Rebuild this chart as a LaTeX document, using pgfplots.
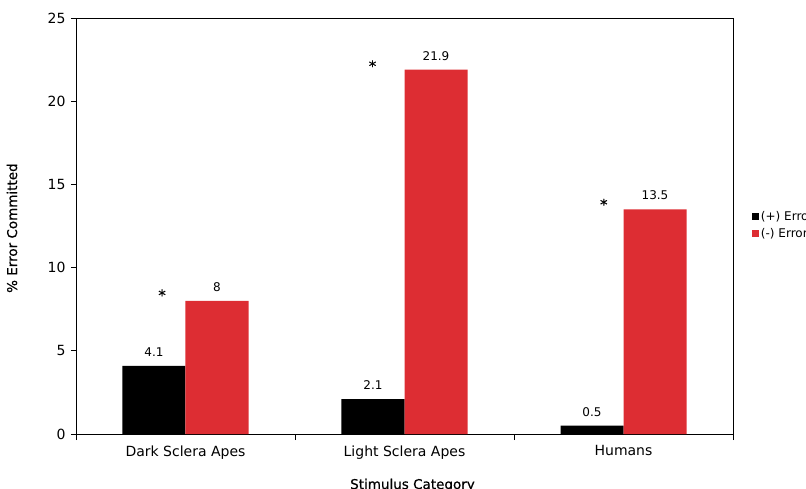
\documentclass[border=0pt]{standalone}
\usepackage{pgfplots}
\pgfplotsset{compat=1.18}
\usepackage{fontspec}
\setmainfont{DejaVu Sans}
\newfontfamily\labelfont[FakeBold=0.6]{DejaVu Sans}
\definecolor{errred}{RGB}{221,45,51}

\begin{document}
\begin{tikzpicture}[x=1pt,y=1pt]
\begin{axis}[
  at={(0,0)}, anchor=south west,
  scale only axis,
  width=657pt, height=416pt,
  ymin=0, ymax=25,
  ytick={0,5,...,25},
  xmin=-0.5, xmax=2.5,
  xtick={0,1,2},
  xticklabels={Dark Sclera Apes, Light Sclera Apes, Humans},
  minor xtick={-0.5,0.5,1.5,2.5},
  major x tick style={draw=none},
  minor tick length=6pt,
  major tick length=5pt,
  tick align=outside,
  xtick pos=bottom, ytick pos=left,
  axis line style={line width=0.9pt},
  every tick/.style={black, line width=0.9pt},
  /pgf/number format/assume math mode=true,
  tick label style={font=\fontsize{14}{16}\selectfont},
  xticklabel style={yshift=-3pt},
  yticklabel style={xshift=-2pt},
  ylabel={\% Error Committed},
  xlabel={Stimulus Category},
  label style={font=\labelfont\fontsize{13.5}{16}\selectfont},
  ylabel style={at={(axis description cs:-0.0974,0.495)}, anchor=center},
  xlabel style={at={(axis description cs:0.5,0)}, xshift=8pt, yshift=-55pt, anchor=base},
  ybar=0pt, bar width=63pt,
  nodes near coords,
  every node near coord/.append style={font=\fontsize{12}{14}\selectfont, inner sep=0pt, yshift=9pt, anchor=south},
  legend style={at={(rel axis cs:1.024,0.502)}, anchor=west, draw=none, fill=none,
    font=\fontsize{12}{14}\selectfont, row sep=2pt,
    legend cell align=left},
  legend image code/.code={\fill[#1] (0pt,-3.5pt) rectangle (7pt,3.5pt);},
]
\addplot[fill=black, draw=none] coordinates {(0,4.1) (1,2.1) (2,0.5)};
\addplot[fill=errred, draw=none] coordinates {(0,8) (1,21.9) (2,13.5)};
\legend{(+) Error, (-) Error}
% significance markers
\node[font=\labelfont\fontsize{15}{17}\selectfont] at (axis cs:-0.107,8.35) {*};
\node[font=\labelfont\fontsize{15}{17}\selectfont] at (axis cs:0.854,22.12) {*};
\node[font=\labelfont\fontsize{15}{17}\selectfont] at (axis cs:1.91,13.8) {*};
\end{axis}
\pgfresetboundingbox
\useasboundingbox (-76pt,-54pt) rectangle (730pt,434pt);
\end{tikzpicture}
\end{document}
